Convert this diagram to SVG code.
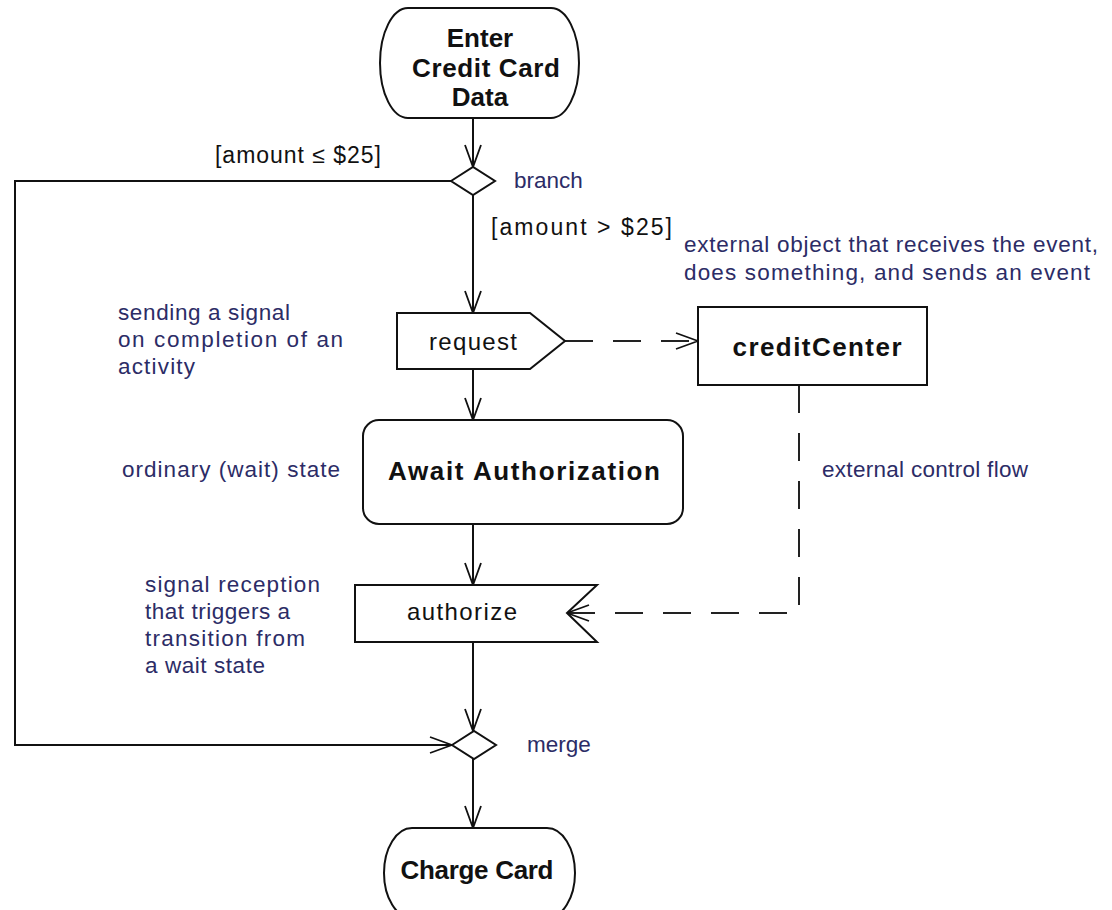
<svg xmlns="http://www.w3.org/2000/svg" width="1112" height="910" viewBox="0 0 1112 910">
<style>
.shape{fill:#fff;stroke:#111;stroke-width:2}
.flow{fill:none;stroke:#111;stroke-width:2}
.dash{fill:none;stroke:#222;stroke-width:2;stroke-dasharray:28 20}
.lbl{font-family:"Liberation Sans",Arial,sans-serif;font-weight:bold;font-size:26px;fill:#111}
.act{font-family:"Liberation Sans",Arial,sans-serif;font-size:24px;fill:#111}
.guard{font-family:"Liberation Sans",Arial,sans-serif;font-size:23px;fill:#111}
.note{font-family:"Liberation Sans",Arial,sans-serif;font-size:22.5px;fill:#2c2c66}
</style>
<defs>
<marker id="open" viewBox="0 0 24 18" refX="23" refY="9" markerWidth="24" markerHeight="18" markerUnits="userSpaceOnUse" orient="auto">
<path d="M1,1 L23,9 L1,17" fill="none" stroke="#111" stroke-width="1.8"/>
</marker>
</defs>
<rect width="1112" height="910" fill="#fff"/>
<g id="connectors">
<line class="flow" x1="473" y1="118" x2="473" y2="167" marker-end="url(#open)"/>
<line class="flow" x1="473" y1="195" x2="473" y2="313" marker-end="url(#open)"/>
<polyline class="flow" points="451,181 15,181 15,745 452,745" marker-end="url(#open)"/>
<line class="flow" x1="473" y1="369" x2="473" y2="420" marker-end="url(#open)"/>
<line class="flow" x1="473" y1="524" x2="473" y2="585" marker-end="url(#open)"/>
<line class="flow" x1="473" y1="642" x2="473" y2="731" marker-end="url(#open)"/>
<line class="flow" x1="473" y1="759" x2="473" y2="828" marker-end="url(#open)"/>
<line class="dash" x1="565" y1="341" x2="698" y2="341" marker-end="url(#open)"/>
<polyline class="dash" points="799,385 799,613 567,613" marker-end="url(#open)"/>
</g>
<g id="enter">
<path class="shape" d="M408,8 L551,8 A28,55 0 0 1 551,118 L408,118 A28,55 0 0 1 408,8 Z"/>
<text class="lbl" x="480" y="47" text-anchor="middle">Enter</text>
<text class="lbl" x="486" y="77" text-anchor="middle" textLength="148" lengthAdjust="spacing">Credit Card</text>
<text class="lbl" x="480" y="106" text-anchor="middle">Data</text>
</g>
<g id="branch">
<polygon class="shape" points="451,181 473,167 495,181 473,195"/>
<text class="note" x="514" y="188">branch</text>
<text class="guard" x="215" y="163" textLength="166" lengthAdjust="spacing">[amount ≤ $25]</text>
<text class="guard" x="491" y="235" textLength="181" lengthAdjust="spacing">[amount &gt; $25]</text>
</g>
<g id="request">
<polygon class="shape" points="397,313 530,313 565,341 530,369 397,369"/>
<text class="act" x="473" y="350" text-anchor="middle" textLength="88" lengthAdjust="spacing">request</text>
</g>
<g id="creditCenter">
<rect class="shape" x="698" y="307" width="229" height="78"/>
<text class="lbl" x="817" y="356" text-anchor="middle" textLength="169" lengthAdjust="spacing">creditCenter</text>
</g>
<g id="await">
<rect class="shape" x="363" y="420" width="320" height="104" rx="16"/>
<text class="lbl" x="524" y="480" text-anchor="middle" textLength="272" lengthAdjust="spacing">Await Authorization</text>
</g>
<g id="authorize">
<polygon class="shape" points="355,585 597,585 567,613 597,642 355,642"/>
<text class="act" x="462" y="620" text-anchor="middle" textLength="110" lengthAdjust="spacing">authorize</text>
</g>
<g id="merge">
<polygon class="shape" points="452,745 474,731 496,745 474,759"/>
<text class="note" x="527" y="752">merge</text>
</g>
<g id="charge">
<path class="shape" d="M412,828 L547,828 A28,45 0 0 1 547,918 L412,918 A28,45 0 0 1 412,828 Z"/>
<text class="lbl" x="477" y="879" text-anchor="middle" textLength="153" lengthAdjust="spacing">Charge Card</text>
</g>
<g id="notes">
<text class="note" x="684" y="252" textLength="414" lengthAdjust="spacing">external object that receives the event,</text>
<text class="note" x="684" y="280" textLength="406" lengthAdjust="spacing">does something, and sends an event</text>
<text class="note" x="118" y="320" textLength="172" lengthAdjust="spacing">sending a signal</text>
<text class="note" x="118" y="347" textLength="225" lengthAdjust="spacing">on completion of an</text>
<text class="note" x="118" y="374" textLength="77" lengthAdjust="spacing">activity</text>
<text class="note" x="122" y="477" textLength="218" lengthAdjust="spacing">ordinary (wait) state</text>
<text class="note" x="822" y="477" textLength="206" lengthAdjust="spacing">external control flow</text>
<text class="note" x="145" y="592" textLength="175" lengthAdjust="spacing">signal reception</text>
<text class="note" x="145" y="619" textLength="145" lengthAdjust="spacing">that triggers a</text>
<text class="note" x="145" y="646" textLength="160" lengthAdjust="spacing">transition from</text>
<text class="note" x="145" y="673" textLength="120" lengthAdjust="spacing">a wait state</text>
</g>
</svg>
